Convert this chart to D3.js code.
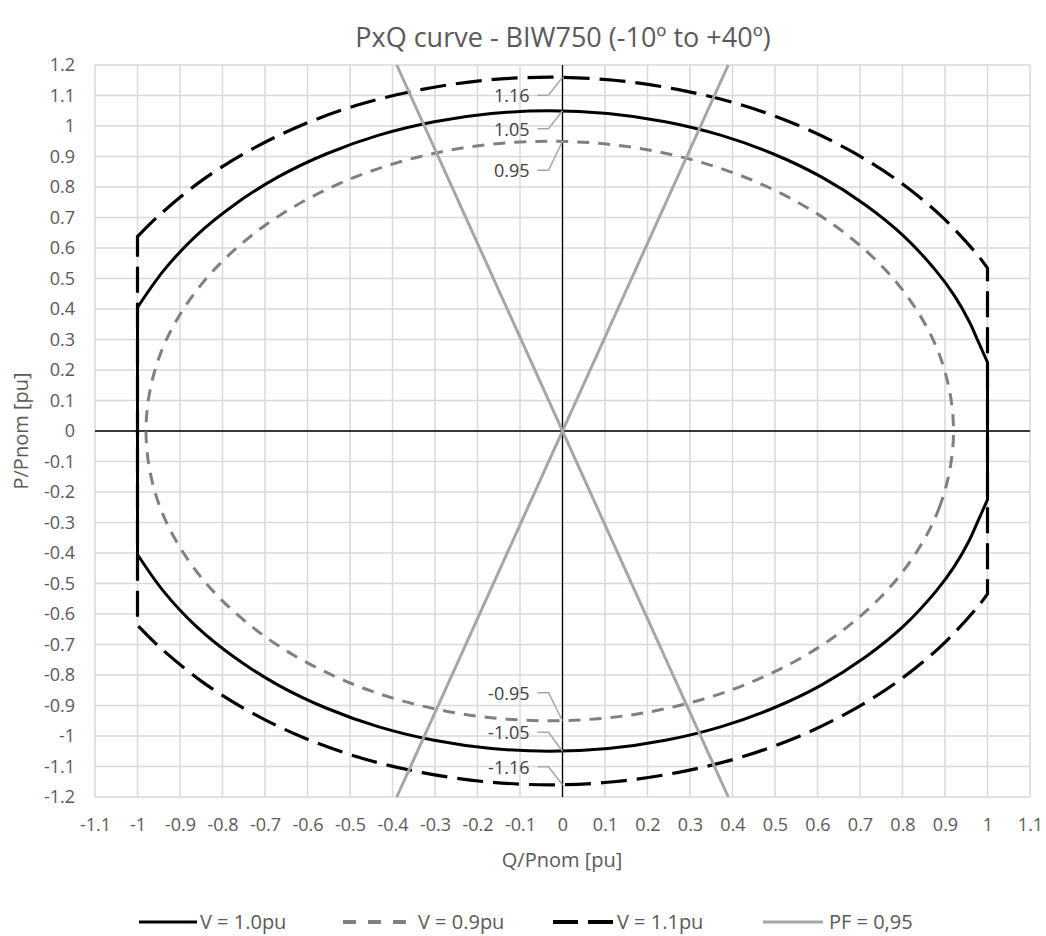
<!DOCTYPE html>
<html><head><meta charset="utf-8">
<script src="https://cdn.jsdelivr.net/npm/d3@7"></script>
<style>body{margin:0;background:#fff;}svg{display:block;}</style>
</head><body>
<script>
// ---- data ----
const xTicks = [-1.1,-1,-0.9,-0.8,-0.7,-0.6,-0.5,-0.4,-0.3,-0.2,-0.1,0,0.1,0.2,0.3,0.4,0.5,0.6,0.7,0.8,0.9,1,1.1];
const yTicks = [-1.2,-1.1,-1,-0.9,-0.8,-0.7,-0.6,-0.5,-0.4,-0.3,-0.2,-0.1,0,0.1,0.2,0.3,0.4,0.5,0.6,0.7,0.8,0.9,1,1.1,1.2];
// V = 1.0pu : [Q, P]
const v10Top = [[-1,0.405],[-0.939,0.525],[-0.863,0.639],[-0.772,0.742],[-0.669,0.833],[-0.555,0.909],[-0.432,0.970],[-0.302,1.014],[-0.167,1.041],[-0.03,1.05],[0.107,1.041],[0.242,1.014],[0.372,0.970],[0.495,0.909],[0.609,0.833],[0.712,0.742],[0.803,0.639],[0.879,0.525],[0.922,0.444],[0.957,0.359],[0.978,0.294],[1,0.225]];
const v10Bottom = [[1,-0.225],[0.978,-0.294],[0.957,-0.359],[0.922,-0.444],[0.879,-0.525],[0.803,-0.639],[0.712,-0.742],[0.609,-0.833],[0.495,-0.909],[0.372,-0.970],[0.242,-1.014],[0.107,-1.041],[-0.03,-1.05],[-0.167,-1.041],[-0.302,-1.014],[-0.432,-0.970],[-0.555,-0.909],[-0.669,-0.833],[-0.772,-0.742],[-0.863,-0.639],[-0.939,-0.525],[-1,-0.405]];
// V = 0.9pu (closed)
const v09 = [[0.92,0],[0.888,-0.246],[0.793,-0.475],[0.642,-0.672],[0.445,-0.823],[0.216,-0.918],[-0.03,-0.95],[-0.276,-0.918],[-0.505,-0.823],[-0.702,-0.672],[-0.853,-0.475],[-0.948,-0.246],[-0.98,0],[-0.948,0.246],[-0.853,0.475],[-0.702,0.672],[-0.505,0.823],[-0.276,0.918],[-0.03,0.95],[0.216,0.918],[0.445,0.823],[0.642,0.672],[0.793,0.475],[0.888,0.246]];
// V = 1.1pu
const v11Top = [[-1,0.637],[-0.95,0.706],[-0.85,0.82],[-0.736,0.92],[-0.61,1.005],[-0.474,1.072],[-0.33,1.12],[-0.181,1.15],[-0.03,1.16],[0.121,1.15],[0.27,1.12],[0.414,1.072],[0.55,1.005],[0.676,0.92],[0.79,0.82],[0.89,0.706],[0.975,0.58],[1,0.534]];
const v11Bottom = [[1,-0.534],[0.975,-0.58],[0.89,-0.706],[0.79,-0.82],[0.676,-0.92],[0.55,-1.005],[0.414,-1.072],[0.27,-1.12],[0.121,-1.15],[-0.03,-1.16],[-0.181,-1.15],[-0.33,-1.12],[-0.474,-1.072],[-0.61,-1.005],[-0.736,-0.92],[-0.85,-0.82],[-0.95,-0.706],[-1,-0.637]];
// PF = 0,95 lines
const pfLineA = [[-0.39,-1.2],[0.39,1.2]];
const pfLineB = [[-0.39,1.2],[0.39,-1.2]];
// callouts at Q = 0
const calloutValues = [1.16,1.05,0.95,-0.95,-1.05,-1.16];
const calloutLabels = ["1.16","1.05","0.95","-0.95","-1.05","-1.16"];
const legendLabels = ["V = 1.0pu","V = 0.9pu","V = 1.1pu","PF = 0,95"];

// ---- layout ----
const W = 1046, H = 936;
const svg = d3.select("body").append("svg").attr("width", W).attr("height", H);
const x = d3.scaleLinear().domain([-1.1,1.1]).range([95,1030]);
const y = d3.scaleLinear().domain([-1.2,1.2]).range([797,65]);
const FONT = "'Open Sans', 'Liberation Sans', sans-serif";
const txt = "#595959";

// gridlines
svg.append("g").selectAll("line").data(xTicks).join("line")
  .attr("x1", d => x(d)).attr("x2", d => x(d)).attr("y1", y(-1.2)).attr("y2", y(1.2))
  .attr("stroke", "#d9d9d9").attr("stroke-width", 1.5);
svg.append("g").selectAll("line").data(yTicks).join("line")
  .attr("y1", d => y(d)).attr("y2", d => y(d)).attr("x1", x(-1.1)).attr("x2", x(1.1))
  .attr("stroke", "#d9d9d9").attr("stroke-width", 1.5);

// zero axes
svg.append("line").attr("x1", x(-1.1)).attr("x2", x(1.1)).attr("y1", y(0)).attr("y2", y(0)).attr("stroke", "#000").attr("stroke-width", 1.3);
svg.append("line").attr("x1", x(0)).attr("x2", x(0)).attr("y1", y(-1.2)).attr("y2", y(1.2)).attr("stroke", "#000").attr("stroke-width", 1.3);

// tick labels via axes
const fmt = d => String(+d.toFixed(1));
const xAxis = svg.append("g").attr("transform", `translate(0,${y(-1.2)})`)
  .call(d3.axisBottom(x).tickValues(xTicks).tickFormat(fmt).tickSize(0).tickPadding(21));
const yAxis = svg.append("g").attr("transform", `translate(${x(-1.1)},0)`)
  .call(d3.axisLeft(y).tickValues(yTicks).tickFormat(fmt).tickSize(0).tickPadding(20));
[xAxis, yAxis].forEach(a => {
  a.select(".domain").remove();
  a.selectAll("text").attr("font-family", FONT).attr("font-size", 18).attr("fill", txt);
});

// series
const lineC = d3.line().x(d => x(d[0])).y(d => y(d[1])).curve(d3.curveCatmullRom.alpha(0.5));
const lineClosed = d3.line().x(d => x(d[0])).y(d => y(d[1])).curve(d3.curveCatmullRomClosed.alpha(0.5));
const lineL = d3.line().x(d => x(d[0])).y(d => y(d[1]));

svg.append("path").attr("d", lineC(v10Top) + lineC(v10Bottom).replace(/^M/, "L") + "Z")
  .attr("fill", "none").attr("stroke", "#000").attr("stroke-width", 3).attr("stroke-linejoin", "round");
svg.append("path").attr("d", lineClosed(v09))
  .attr("fill", "none").attr("stroke", "#808080").attr("stroke-width", 3).attr("stroke-dasharray", "12,9");
svg.append("path").attr("d", lineC(v11Top) + lineC(v11Bottom).replace(/^M/, "L") + "Z")
  .attr("fill", "none").attr("stroke", "#000").attr("stroke-width", 3.2).attr("stroke-dasharray", "26,10");
[pfLineA, pfLineB].forEach(l => svg.append("path").attr("d", lineL(l))
  .attr("fill", "none").attr("stroke", "#a6a6a6").attr("stroke-width", 3));

// callouts
const calloutDy = [18, 18, 29, -28, -19, -18];
const x0 = x(0);
calloutValues.forEach((v, i) => {
  const py = y(v), ly = py + calloutDy[i];
  svg.append("path").attr("d", `M${x0-25},${ly}L${x0-14},${ly}L${x0},${py}`)
    .attr("fill", "none").attr("stroke", "#a6a6a6").attr("stroke-width", 1.5);
  svg.append("text").attr("x", x0 - 33).attr("y", ly + 7).attr("text-anchor", "end")
    .attr("font-family", FONT).attr("font-size", 18).attr("fill", "#404040").text(calloutLabels[i]);
});

// title and axis titles
svg.append("text").attr("x", 563).attr("y", 47).attr("text-anchor", "middle")
  .attr("font-family", FONT).attr("font-size", 27).attr("fill", txt).text("PxQ curve - BIW750 (-10º to +40º)");
svg.append("text").attr("x", 562).attr("y", 867).attr("text-anchor", "middle")
  .attr("font-family", FONT).attr("font-size", 20).attr("fill", txt).text("Q/Pnom [pu]");
svg.append("text").attr("transform", "translate(28,431) rotate(-90)").attr("text-anchor", "middle")
  .attr("font-family", FONT).attr("font-size", 20).attr("fill", txt).text("P/Pnom [pu]");

// legend
const legStyles = [
  {c:"#000", w:3, dash:null, x1:139, x2:197, tx:200},
  {c:"#808080", w:4, dash:"13,12", x1:343, x2:406, tx:418},
  {c:"#000", w:4, dash:"25,10", x1:553, x2:613, tx:617},
  {c:"#a6a6a6", w:3, dash:null, x1:763, x2:823, tx:829}
];
const LY = 922;
legendLabels.forEach((lab, i) => {
  const s = legStyles[i];
  const ln = svg.append("line").attr("x1", s.x1).attr("x2", s.x2).attr("y1", LY).attr("y2", LY)
    .attr("stroke", s.c).attr("stroke-width", s.w);
  if (s.dash) ln.attr("stroke-dasharray", s.dash);
  svg.append("text").attr("x", s.tx).attr("y", LY + 7).attr("font-family", FONT)
    .attr("font-size", 20).attr("fill", txt).text(lab);
});
</script>
</body></html>
